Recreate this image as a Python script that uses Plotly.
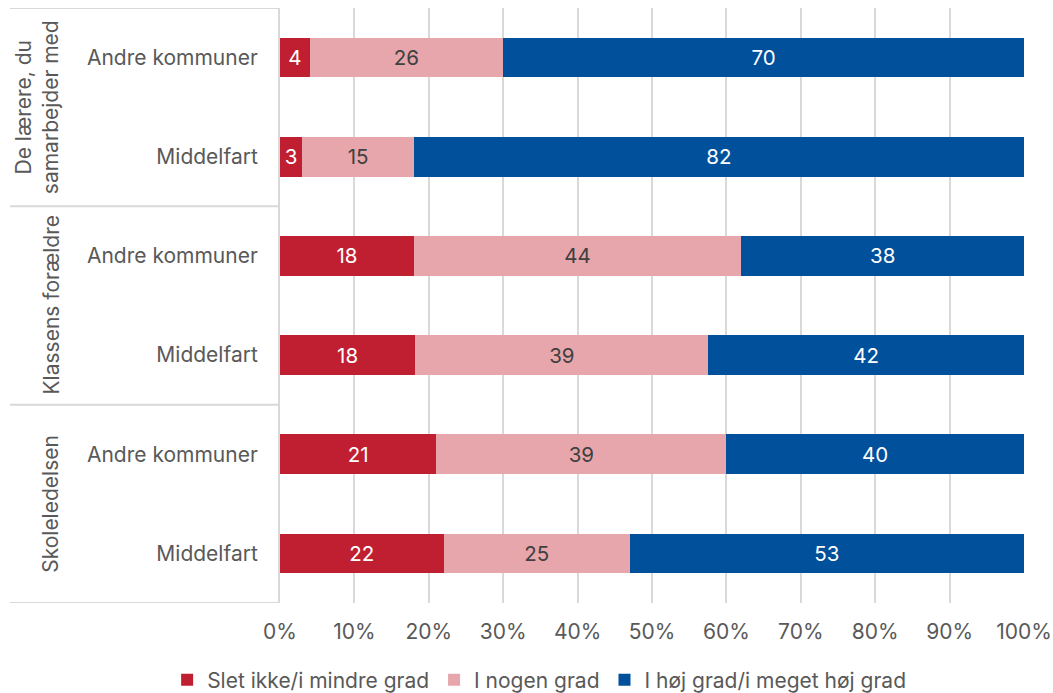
import plotly.graph_objects as go

# Survey rows, top to bottom
groups = ["De lærere, du<br>samarbejder med", "Klassens forældre", "Skoleledelsen"]
rows = ["Andre kommuner", "Middelfart", "Andre kommuner", "Middelfart", "Andre kommuner", "Middelfart"]

series_names = ["Slet ikke/i mindre grad", "I nogen grad", "I høj grad/i meget høj grad"]
slet_ikke = [4, 3, 18, 18, 21, 22]
nogen_grad = [26, 15, 44, 39, 39, 25]
hoej_grad = [70, 82, 38, 42, 40, 53]

x_ticks = [0, 10, 20, 30, 40, 50, 60, 70, 80, 90, 100]

colors = ["#C01F32", "#E6A6AB", "#00509B"]
text_colors = ["#FFFFFF", "#404040", "#FFFFFF"]

FONT = "Inter"
FS = 21
GREY = "#595959"
LINE = "#D9D9D9"

ypos = list(range(len(rows)))

fig = go.Figure()
for name, vals, col, tcol in zip(series_names, [slet_ikke, nogen_grad, hoej_grad], colors, text_colors):
    fig.add_trace(go.Bar(
        y=ypos, x=vals, name=name, orientation="h",
        marker=dict(color=col, line=dict(width=0)),
        text=[str(v) for v in vals], textposition="inside",
        insidetextanchor="middle", textangle=0, constraintext="none",
        textfont=dict(family=FONT, size=20.5, color=tcol),
        hoverinfo="skip",
    ))

# plot area geometry (px)
W, H = 1053, 693
L, R, T, B = 280, 29, 8, 90
pw = W - L - R

def px_to_paper(px):
    return (px - L) / pw

shapes = []
for yb in [-0.5, 1.5, 3.5, 5.5]:
    shapes.append(dict(type="line", xref="paper", yref="y",
                       x0=px_to_paper(10), x1=0, y0=yb, y1=yb,
                       line=dict(color=LINE, width=2)))

annotations = []
group_centers = [0.5, 2.5, 4.5]
group_x = [37, 51, 51]
for g, yc, gx in zip(groups, group_centers, group_x):
    annotations.append(dict(text=g, xref="paper", yref="y", x=px_to_paper(gx), y=yc,
                            textangle=-90, showarrow=False, xanchor="center", yanchor="middle",
                            font=dict(family=FONT, size=FS, color=GREY)))

fig.update_layout(
    width=W, height=H,
    margin=dict(l=L, r=R, t=T, b=B, autoexpand=False),
    barmode="stack", barnorm="percent", bargap=0.6,
    plot_bgcolor="white", paper_bgcolor="white",
    font=dict(family=FONT, size=FS, color=GREY),
    shapes=shapes, annotations=annotations,
    legend=dict(orientation="h", xref="container", x=0.512, xanchor="center",
                yref="container", y=(H - 680) / H, yanchor="middle",
                font=dict(family=FONT, size=FS, color=GREY),
                traceorder="normal", itemwidth=30),
    showlegend=True,
)
fig.update_xaxes(range=[0, 100], tickvals=x_ticks, ticktext=[f"{t}%" for t in x_ticks],
                 showgrid=True, gridcolor=LINE, gridwidth=2, zeroline=False,
                 showline=False, ticks="", ticklabelstandoff=14, tickangle=0,
                 tickfont=dict(family=FONT, size=FS, color=GREY), fixedrange=True)
fig.update_yaxes(tickvals=ypos, ticktext=rows, range=[5.5, -0.5],
                 showgrid=False, zeroline=False, showline=True, linecolor=LINE, linewidth=2,
                 ticks="", ticklabelstandoff=16,
                 tickfont=dict(family=FONT, size=FS, color=GREY), fixedrange=True)

fig.write_html("out.html")
